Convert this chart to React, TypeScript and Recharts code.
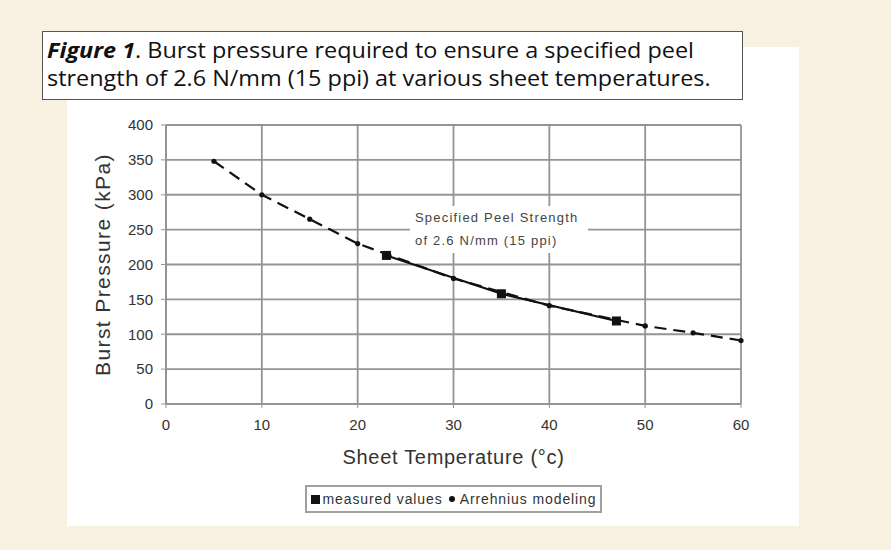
import React from 'react';
import { LineChart, Line, XAxis, YAxis, CartesianGrid } from 'recharts';

// Arrhenius model (dashed line with small dots)
const modelTemps = [5, 10, 15, 20, 30, 40, 50, 55, 60];
const modelPressure = [348, 300, 265, 230, 180, 141, 112, 102, 91];

// measured values (solid line with square markers)
const measuredTemps = [23, 35, 47];
const measuredPressure = [213, 158, 119];

const xTicks = [0, 10, 20, 30, 40, 50, 60];
const yTicks = [0, 50, 100, 150, 200, 250, 300, 350, 400];

const seriesNames = ['measured values', 'Arrehnius modeling'];
const titleBold = 'Figure 1';
const titleLine1 = '. Burst pressure required to ensure a specified peel';
const titleLine2 = 'strength of 2.6 N/mm (15 ppi) at various sheet temperatures.';
const noteLines = ['Specified Peel Strength', 'of 2.6 N/mm (15 ppi)'];

const modelData = modelTemps.map((t, i) => ({ t, p: modelPressure[i] }));
const measuredData = measuredTemps.map((t, i) => ({ t, p: measuredPressure[i] }));

const chartFont = '"Liberation Sans", Arial, sans-serif';
const gridGray = '#949494';
const textGray = '#333';

const SquareDot = (props: any) => {
    const { cx, cy, index } = props;
    return <rect key={`sq-${index}`} x={cx - 4.5} y={cy - 4.5} width={9} height={9} fill="#111" />;
};

const App: React.FC = () => {
    return (
        <div style={{ position: 'absolute', left: 0, top: 0, width: 891, height: 550, background: '#f8f0e0', overflow: 'hidden' }}>
            {/* white chart panel */}
            <div style={{ position: 'absolute', left: 67, top: 47, width: 732, height: 479, background: '#fff' }} />

            <div style={{ position: 'absolute', left: 0, top: 0 }}>
                <LineChart width={891} height={550} margin={{ top: 125, right: 150, bottom: 76, left: 86 }}>
                    <CartesianGrid stroke={gridGray} strokeWidth={1.8} />
                    <XAxis
                        type="number"
                        dataKey="t"
                        domain={[0, 60]}
                        ticks={xTicks}
                        height={70}
                        axisLine={{ stroke: gridGray, strokeWidth: 1.8 }}
                        tickLine={{ stroke: gridGray }}
                        tickSize={4}
                        tickMargin={11}
                        tick={{ fill: textGray, fontSize: 15, fontFamily: chartFont }}
                        label={{
                            value: 'Sheet Temperature (°c)',
                            position: 'insideBottom',
                            offset: 10,
                            style: { fill: textGray, fontSize: 20, fontFamily: chartFont, letterSpacing: 0.7 }
                        }}
                    />
                    <YAxis
                        type="number"
                        domain={[0, 400]}
                        ticks={yTicks}
                        width={80}
                        axisLine={{ stroke: gridGray, strokeWidth: 1.8 }}
                        tickLine={{ stroke: gridGray }}
                        tickSize={5}
                        tickMargin={8}
                        tick={{ fill: textGray, fontSize: 15, fontFamily: chartFont }}
                        label={{
                            value: 'Burst Pressure (kPa)',
                            position: 'insideLeft',
                            angle: -90,
                            offset: 17,
                            style: { fill: textGray, fontSize: 21, fontFamily: chartFont, letterSpacing: 1.4, textAnchor: 'middle' }
                        }}
                    />
                    <Line
                        data={modelData}
                        dataKey="p"
                        name={seriesNames[1]}
                        stroke="#111"
                        strokeWidth={2.2}
                        strokeDasharray="12 7"
                        dot={{ r: 2.6, fill: '#111', stroke: 'none' }}
                        isAnimationActive={false}
                    />
                    <Line
                        data={measuredData}
                        dataKey="p"
                        name={seriesNames[0]}
                        stroke="#111"
                        strokeWidth={2.2}
                        dot={SquareDot}
                        isAnimationActive={false}
                    />
                </LineChart>
            </div>

            {/* annotation */}
            <div
                style={{
                    position: 'absolute',
                    left: 410,
                    top: 206,
                    width: 178,
                    height: 47,
                    background: '#fff',
                    fontFamily: chartFont,
                    fontSize: 13,
                    letterSpacing: 1.2,
                    color: '#444',
                    lineHeight: '23px',
                    paddingLeft: 5,
                    boxSizing: 'border-box'
                }}
            >
                {noteLines.map((l) => (
                    <div key={l}>{l}</div>
                ))}
            </div>

            {/* legend */}
            <div
                style={{
                    position: 'absolute',
                    left: 305,
                    top: 485,
                    width: 297,
                    height: 28,
                    border: '2px solid #a0a0a0',
                    boxSizing: 'border-box',
                    display: 'flex',
                    alignItems: 'center',
                    justifyContent: 'center',
                    fontFamily: chartFont,
                    fontSize: 14,
                    letterSpacing: 0.9,
                    color: textGray,
                    whiteSpace: 'nowrap'
                }}
            >
                <span style={{ display: 'inline-block', width: 9, height: 9, background: '#111', marginRight: 3 }} />
                <span>{seriesNames[0]}</span>
                <span style={{ display: 'inline-block', width: 6, height: 6, borderRadius: 3, background: '#111', margin: '0 5px 0 6px' }} />
                <span>{seriesNames[1]}</span>
            </div>

            {/* caption box */}
            <div
                style={{
                    position: 'absolute',
                    left: 42,
                    top: 31,
                    width: 701,
                    height: 69,
                    background: '#fff',
                    border: '1.5px solid #555',
                    boxSizing: 'border-box',
                    padding: '5px 0 0 4px',
                    overflow: 'hidden'
                }}
            >
                <div
                    style={{
                        fontFamily: '"Open Sans", "Noto Sans", sans-serif',
                        fontSize: 21,
                        lineHeight: '28px',
                        color: '#111',
                        whiteSpace: 'nowrap',
                        transform: 'scaleX(1.115)',
                        transformOrigin: 'left top',
                        marginTop: -1
                    }}
                >
                    <div>
                        <b>
                            <i>{titleBold}</i>
                        </b>
                        {titleLine1}
                    </div>
                    <div>{titleLine2}</div>
                </div>
            </div>
        </div>
    );
};

export default App;
